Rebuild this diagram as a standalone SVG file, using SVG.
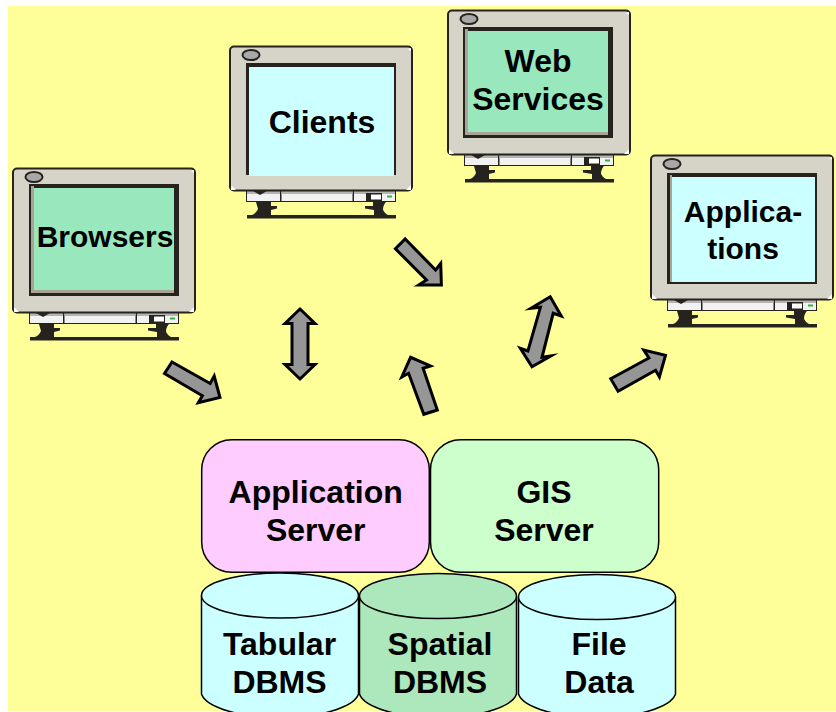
<svg xmlns="http://www.w3.org/2000/svg" xmlns:xlink="http://www.w3.org/1999/xlink" width="836" height="712" viewBox="0 0 836 712">
<style>
text{font-family:"Liberation Sans",Arial,sans-serif;font-weight:bold;font-size:32px;fill:#000;text-anchor:middle}
.small{font-size:30px}
.arrow{fill:#969696;stroke:#000;stroke-width:3;stroke-linejoin:miter;stroke-miterlimit:8}
.box{stroke:#000;stroke-width:1.5}
.dk{fill:#26231e}
</style>
<defs>
<g id="monitor">
<path class="dk" d="M39 324h15v4h6v2.500l-6 1.500v5H179v3.500H30v-3.500h5c3-1 5-4 6-6z"/>
<path class="dk" d="M169 324h-13v4h-8v2.500l9 1.500v5h14c-2-1-5-4-5-6 0-3 2-6 3-7z"/>
<rect x="29" y="312" width="150" height="12" fill="#26231e"/>
<rect x="30" y="313" width="33" height="10" fill="#f2f2f2"/>
<rect x="30" y="313" width="33" height="3" fill="#b4b4b4"/>
<path class="dk" d="M36 313h14l-7 4z"/>
<rect x="64.500" y="313" width="71" height="10" fill="#f2f2f2"/>
<rect x="64.500" y="313" width="71" height="3" fill="#b4b4b4"/>
<rect x="137" y="313" width="41" height="10" fill="#f2f2f2"/>
<rect x="137" y="313" width="41" height="3" fill="#b4b4b4"/>
<rect x="149" y="315" width="16" height="8" fill="#26231e"/>
<rect x="154" y="316.500" width="10" height="5" fill="#fff"/>
<rect x="170" y="317.500" width="5" height="2" fill="#2fb53f"/>
<rect x="13" y="168.500" width="182" height="144" rx="4" fill="#d6d3c8" stroke="#26231e" stroke-width="2"/>
<path d="M191 171l3-1v3zM14 307l5 5h-5zM194 307l-5 5h5z" fill="#fff"/>
<ellipse cx="34" cy="177" rx="8.500" ry="5" fill="#a8a8a8" stroke="#26231e" stroke-width="2"/>
</g>
</defs>
<rect width="836" height="712" fill="#fff"/>
<rect x="8" y="6" width="828" height="705" fill="#ffff99"/>

<g id="connectors">
<polygon class="arrow" points="172,362 210.200,383.500 214.200,376 220,397.500 198.300,402.700 202.400,395.700 164.500,373.500"/>
<polygon class="arrow" points="300,309 315,323.500 308,323.500 308,364.500 315,364.500 300,379 285,364.500 292,364.500 292,323.500 285,323.500"/>
<polygon class="arrow" points="405.200,239 435.600,270 440.700,263.500 441.400,285 418.700,285 426.500,280 395.400,248.700"/>
<polygon class="arrow" points="437.300,410 423.800,414.300 408.600,373.300 401.800,377 410.600,357.300 430.500,366 423.100,368.300"/>
<polygon class="arrow" points="550.200,296.700 561.300,316 553.200,313.300 542,357.300 550.900,356 532,366.700 520.400,348.300 527.900,351 540.400,307.300 530.900,308.300"/>
<polygon class="arrow" points="610.700,378.700 648.900,358 643.800,350 665.500,355.300 659.400,377 655.600,370.300 618.100,391.300"/>
</g>

<g id="browsers">
<use href="#monitor" xlink:href="#monitor"/>
<rect x="29" y="184" width="150" height="112" fill="#26231e"/>
<rect x="31" y="186" width="3" height="106" fill="#a8a596"/>
<rect x="31" y="290" width="143" height="3" fill="#a8a596"/>
<rect x="34" y="188" width="140" height="102" fill="#99e8bd"/>
<text class="small" x="105" y="247">Browsers</text>
</g>

<g id="clients">
<use href="#monitor" xlink:href="#monitor" x="217" y="-122"/>
<rect x="246" y="63" width="150" height="112" fill="#26231e"/>
<rect x="249" y="67" width="145" height="109" fill="#ccffff"/>
<text x="322" y="133">Clients</text>
</g>

<g id="web-services">
<use href="#monitor" xlink:href="#monitor" x="435" y="-158"/>
<rect x="463" y="27" width="150" height="111" fill="#26231e"/>
<rect x="465" y="29" width="3" height="106" fill="#a8a596"/>
<rect x="465" y="132" width="143" height="3" fill="#a8a596"/>
<rect x="468" y="31" width="140" height="101" fill="#99e8bd"/>
<text x="538" y="72">Web</text>
<text x="538" y="110">Services</text>
</g>

<g id="applications">
<use href="#monitor" xlink:href="#monitor" x="638" y="-13"/>
<rect x="667" y="173" width="150" height="111" fill="#26231e"/>
<rect x="670" y="175" width="2" height="107" fill="#a8a596"/>
<rect x="672" y="177" width="143" height="105" fill="#ccffff"/>
<text class="small" x="743" y="222">Applica-</text>
<text class="small" x="743" y="259">tions</text>
</g>

<g id="application-server">
<rect class="box" x="201.700" y="439.700" width="227.600" height="132.600" rx="30" fill="#ffccff"/>
<text x="315.700" y="503">Application</text>
<text x="315.700" y="541">Server</text>
</g>

<g id="gis-server">
<rect class="box" x="430.500" y="439.700" width="228.200" height="132.600" rx="30" fill="#ccffcc"/>
<text x="544" y="503">GIS</text>
<text x="544" y="541">Server</text>
</g>

<g id="tabular-dbms">
<path class="box" d="M201.500 595.500V694C206 708 244 718 280 718S354 708 358.500 694V595.500" fill="#ccffff"/>
<ellipse class="box" cx="280" cy="595.500" rx="78.500" ry="22.500" fill="#ccffff"/>
<text x="279.500" y="655">Tabular</text>
<text x="279.500" y="693">DBMS</text>
</g>

<g id="spatial-dbms">
<path class="box" d="M359.500 596V694C364 708 402 718 438 718S512 708 516.500 694V596" fill="#ade8bd"/>
<ellipse class="box" cx="438" cy="596" rx="78.500" ry="22.500" fill="#ade8bd"/>
<text x="440" y="655">Spatial</text>
<text x="440" y="693">DBMS</text>
</g>

<g id="file-data">
<path class="box" d="M518.500 597V694C523 708 561 718 597 718S671 708 675.500 694V597" fill="#ccffff"/>
<ellipse class="box" cx="597" cy="597" rx="78.500" ry="22.500" fill="#ccffff"/>
<text x="599" y="655">File</text>
<text x="599" y="693">Data</text>
</g>
</svg>
